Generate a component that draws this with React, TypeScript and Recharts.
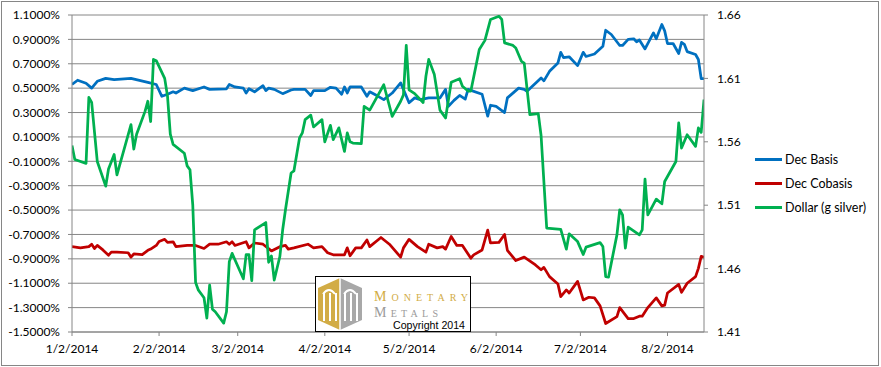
import React from "react";
import { LineChart, Line, XAxis, YAxis, CartesianGrid } from "recharts";

// Dates (2014, M/D) and values
const basisDates = ["1/2","1/4","1/7","1/9","1/11","1/14","1/17","1/23","1/29","2/1","2/3","2/5","2/7","2/8","2/11","2/14","2/18","2/20","2/26","2/27","3/1","3/4","3/5","3/6","3/8","3/11","3/12","3/13","3/15","3/18","3/21","3/22","3/26","3/28","3/29","4/2","4/4","4/6","4/8","4/9","4/10","4/11","4/15","4/17","4/18","4/21","4/23","4/26","4/29","5/2","5/4","5/6","5/9","5/13","5/15","5/16","5/18","5/20","5/22","5/23","5/28","5/30","5/31","6/2","6/5","6/6","6/10","6/12","6/13","6/18","6/19","6/21","6/24","6/25","6/26","6/28","7/1","7/3","7/4","7/7","7/10","7/11","7/13","7/16","7/17","7/19","7/21","7/22","7/23","7/25","7/28","7/29","7/31","8/1","8/2","8/4","8/6","8/7","8/8","8/9","8/12","8/13","8/14","8/15"];
const basisValues = [0.53,0.565,0.54,0.50,0.556,0.58,0.57,0.58,0.548,0.53,0.433,0.45,0.47,0.46,0.50,0.48,0.51,0.49,0.495,0.53,0.51,0.50,0.46,0.495,0.47,0.52,0.48,0.50,0.49,0.455,0.485,0.49,0.49,0.44,0.48,0.48,0.507,0.50,0.45,0.51,0.46,0.51,0.51,0.433,0.47,0.433,0.406,0.46,0.543,0.38,0.42,0.406,0.42,0.42,0.49,0.35,0.40,0.44,0.41,0.49,0.45,0.27,0.36,0.35,0.30,0.42,0.50,0.49,0.474,0.584,0.56,0.638,0.707,0.794,0.75,0.757,0.685,0.794,0.76,0.78,0.844,0.975,0.94,0.85,0.85,0.90,0.905,0.88,0.895,0.822,0.953,0.905,1.022,0.97,0.866,0.866,0.784,0.876,0.86,0.80,0.776,0.735,0.578,0.578];

const cobasisDates = ["1/2","1/5","1/8","1/9","1/10","1/11","1/13","1/15","1/16","1/18","1/22","1/23","1/24","1/27","1/29","1/30","2/1","2/2","2/4","2/5","2/7","2/8","2/12","2/15","2/18","2/20","2/23","2/26","2/27","2/28","3/1","3/5","3/6","3/8","3/11","3/14","3/17","3/19","3/20","3/22","3/27","3/29","4/1","4/3","4/5","4/9","4/10","4/11","4/13","4/15","4/17","4/18","4/22","4/25","4/29","4/30","5/2","5/5","5/8","5/9","5/12","5/14","5/15","5/17","5/19","5/21","5/24","5/25","5/28","5/30","5/31","6/3","6/5","6/6","6/9","6/12","6/16","6/18","6/19","6/21","6/24","6/25","6/27","6/28","7/1","7/3","7/5","7/7","7/9","7/11","7/15","7/16","7/19","7/21","7/23","7/24","7/26","7/29","7/31","8/1","8/2","8/6","8/7","8/9","8/12","8/13","8/14","8/15"];
const cobasisValues = [-0.80,-0.81,-0.80,-0.78,-0.815,-0.79,-0.827,-0.87,-0.845,-0.845,-0.85,-0.886,-0.86,-0.865,-0.83,-0.82,-0.79,-0.758,-0.74,-0.765,-0.76,-0.80,-0.79,-0.79,-0.815,-0.78,-0.78,-0.76,-0.78,-0.76,-0.79,-0.76,-0.81,-0.77,-0.78,-0.835,-0.80,-0.79,-0.82,-0.81,-0.78,-0.81,-0.80,-0.85,-0.867,-0.867,-0.81,-0.875,-0.81,-0.81,-0.745,-0.80,-0.725,-0.78,-0.886,-0.81,-0.74,-0.80,-0.845,-0.78,-0.81,-0.80,-0.82,-0.717,-0.79,-0.79,-0.895,-0.867,-0.827,-0.665,-0.77,-0.765,-0.70,-0.83,-0.914,-0.886,-0.95,-0.99,-0.97,-1.046,-1.106,-1.21,-1.155,-1.18,-1.085,-1.237,-1.215,-1.22,-1.286,-1.43,-1.374,-1.30,-1.39,-1.39,-1.37,-1.37,-1.30,-1.22,-1.286,-1.28,-1.18,-1.11,-1.175,-1.10,-1.046,-0.978,-0.88,-0.886];

const dollarDates = ["1/2","1/3","1/7","1/8","1/9","1/11","1/14","1/15","1/17","1/18","1/23","1/24","1/25","1/28","1/29","1/30","1/31","2/1","2/4","2/5","2/6","2/7","2/11","2/12","2/13","2/14","2/15","2/16","2/18","2/19","2/20","2/21","2/22","2/25","2/26","2/27","2/28","3/4","3/5","3/6","3/7","3/8","3/12","3/13","3/14","3/15","3/17","3/18","3/19","3/21","3/22","3/24","3/25","3/26","3/28","3/29","4/1","4/2","4/4","4/5","4/7","4/9","4/10","4/11","4/12","4/15","4/16","4/18","4/21","4/23","4/26","4/29","4/30","5/1","5/2","5/4","5/7","5/8","5/9","5/11","5/13","5/15","5/17","5/20","5/21","5/23","5/24","5/27","5/29","5/31","6/3","6/4","6/5","6/8","6/9","6/11","6/12","6/14","6/17","6/18","6/20","6/25","6/27","6/28","7/1","7/3","7/4","7/9","7/10","7/11","7/12","7/15","7/16","7/17","7/18","7/19","7/23","7/24","7/25","7/26","7/29","7/31","8/1","8/5","8/6","8/7","8/9","8/12","8/13","8/14","8/15"];
const dollarValues = [1.557,1.546,1.543,1.595,1.591,1.5445,1.525,1.5385,1.55,1.534,1.5735,1.5543,1.566,1.584,1.592,1.576,1.625,1.624,1.610,1.596,1.566,1.558,1.551,1.541,1.538,1.51,1.449,1.443,1.437,1.421,1.447,1.428,1.426,1.417,1.426,1.4655,1.472,1.452,1.471,1.471,1.4505,1.4906,1.4963,1.465,1.470,1.451,1.4695,1.4906,1.5064,1.5354,1.537,1.563,1.567,1.5775,1.581,1.5717,1.5775,1.56,1.573,1.5617,1.571,1.5524,1.567,1.560,1.559,1.5585,1.588,1.585,1.597,1.605,1.58,1.592,1.597,1.636,1.601,1.598,1.591,1.6117,1.625,1.613,1.585,1.5788,1.607,1.6097,1.6038,1.600,1.600,1.6328,1.640,1.6565,1.659,1.6565,1.638,1.636,1.634,1.6235,1.622,1.5814,1.5822,1.565,1.492,1.491,1.4753,1.4874,1.4813,1.4711,1.4769,1.4805,1.4774,1.4537,1.4532,1.4866,1.5064,1.5024,1.4761,1.4927,1.4866,1.4906,1.5306,1.5024,1.5148,1.5111,1.5287,1.5445,1.5749,1.5551,1.5656,1.5564,1.5709,1.5674,1.5933];

const xTickDates = ["1/2","2/2","3/2","4/2","5/2","6/2","7/2","8/2"];
const leftTicks = [-1.5,-1.3,-1.1,-0.9,-0.7,-0.5,-0.3,-0.1,0.1,0.3,0.5,0.7,0.9,1.1];
const rightTicks = [1.41,1.46,1.51,1.56,1.61,1.66];
const lastDate = "8/15";

const START = Date.UTC(2014, 0, 2);
const dayOf = (md: string) => {
  const [m, d] = md.split("/").map(Number);
  return Math.round((Date.UTC(2014, m - 1, d) - START) / 86400000);
};
const fmtDay = (day: number) => {
  const dt = new Date(START + day * 86400000);
  return `${dt.getUTCMonth() + 1}/${dt.getUTCDate()}/${dt.getUTCFullYear()}`;
};
const build = (dates: string[], values: number[]) =>
  dates.map((d, i) => ({ day: dayOf(d), v: values[i] }));

const series = [
  { name: "Dec Basis", color: "#0070C0", axis: "left", data: build(basisDates, basisValues) },
  { name: "Dec Cobasis", color: "#C00000", axis: "left", data: build(cobasisDates, cobasisValues) },
  { name: "Dollar (g silver)", color: "#00B050", axis: "right", data: build(dollarDates, dollarValues) },
];

const FONT = "Lato, 'Liberation Sans', sans-serif";
const GRID = "#868686";
const tickStyle = { fontFamily: FONT, fontSize: 12, fill: "#000" };

const LegendBox = () => (
  <div style={{ position: "absolute", left: 755, top: 147, fontFamily: FONT, fontSize: 12.5, color: "#000" }}>
    {series.map((s) => (
      <div key={s.name} style={{ display: "flex", alignItems: "center", height: 24 }}>
        <div style={{ width: 27, height: 3, background: s.color, marginRight: 3 }} />
        <span>{s.name}</span>
      </div>
    ))}
  </div>
);

const Logo = () => (
  <svg
    width={156}
    height={56}
    style={{ position: "absolute", left: 315, top: 276 }}
  >
    <rect x={0.5} y={0.5} width={155} height={55} fill="#fff" stroke="#000" strokeWidth={1} />
    <polygon points="25,2 3,12 3,44 25,54" fill="#D2AC45" />
    <polygon points="25,2 47,12 47,44 25,54" fill="#A8A8A8" />
    {[8, 14, 20].map((x) => (
      <rect key={"g" + x} x={x} y={17} width={2} height={28} fill="#fff" />
    ))}
    <path d="M8,18 Q14,10 20,18" fill="none" stroke="#fff" strokeWidth={2} />
    {[29, 35, 41].map((x) => (
      <rect key={"s" + x} x={x} y={17} width={2} height={28} fill="#fff" />
    ))}
    <path d="M29,18 Q35,10 41,18" fill="none" stroke="#fff" strokeWidth={2} />
    <line x1={25} y1={2} x2={25} y2={54} stroke="#fff" strokeWidth={1.5} />
    <text
      x={59}
      y={24.5}
      textLength={94}
      lengthAdjust="spacing"
      style={{ fontFamily: "'Liberation Serif', serif", fontSize: 14, fill: "#D2AC45", fontVariant: "small-caps" }}
    >
      Monetary
    </text>
    <text
      x={59}
      y={40.5}
      textLength={64}
      lengthAdjust="spacing"
      style={{ fontFamily: "'Liberation Serif', serif", fontSize: 14, fill: "#9A9A9A", fontVariant: "small-caps" }}
    >
      Metals
    </text>
    <text
      x={78}
      y={52.5}
      textLength={72}
      lengthAdjust="spacingAndGlyphs"
      style={{ fontFamily: "'Liberation Sans', Arial, sans-serif", fontSize: 10.5, fill: "#000" }}
    >
      Copyright 2014
    </text>
  </svg>
);

export default function App() {
  const xTicks = xTickDates.map(dayOf);
  return (
    <div style={{ position: "absolute", left: 0, top: 0, width: 881, height: 367, background: "#fff" }}>
      <div
        style={{
          position: "absolute",
          left: 1,
          top: 1,
          width: 878,
          height: 365,
          border: `1px solid ${GRID}`,
          boxSizing: "border-box",
        }}
      />
      <LineChart width={881} height={367} margin={{ top: 15, right: 127, bottom: 5, left: 0 }}>
        <CartesianGrid yAxisId="left" vertical={false} stroke={GRID} strokeWidth={1} />
        <XAxis
          dataKey="day"
          type="number"
          domain={[0, dayOf(lastDate)]}
          ticks={xTicks}
          interval={0}
          tickFormatter={fmtDay}
          height={30}
          stroke={GRID}
          tickSize={4}
          tickMargin={8}
          tick={tickStyle}
          allowDataOverflow
        />
        <YAxis
          yAxisId="left"
          width={72}
          domain={[-1.5, 1.1]}
          ticks={leftTicks}
          interval={0}
          tickFormatter={(v: number) => v.toFixed(4) + "%"}
          stroke={GRID}
          tickSize={4}
          tickMargin={8}
          tick={tickStyle}
          allowDataOverflow
        />
        <YAxis
          yAxisId="right"
          orientation="right"
          width={50}
          domain={[1.41, 1.66]}
          ticks={rightTicks}
          interval={0}
          tickFormatter={(v: number) => v.toFixed(2)}
          stroke={GRID}
          tickSize={4}
          tickMargin={9}
          tick={{ ...tickStyle, textAnchor: "start" }}
          allowDataOverflow
        />
        {series.map((s) => (
          <Line
            key={s.name}
            name={s.name}
            yAxisId={s.axis}
            data={s.data}
            dataKey="v"
            stroke={s.color}
            strokeWidth={2.75}
            strokeLinejoin="round"
            dot={false}
            activeDot={false}
            isAnimationActive={false}
          />
        ))}
      </LineChart>
      <LegendBox />
      <Logo />
    </div>
  );
}
